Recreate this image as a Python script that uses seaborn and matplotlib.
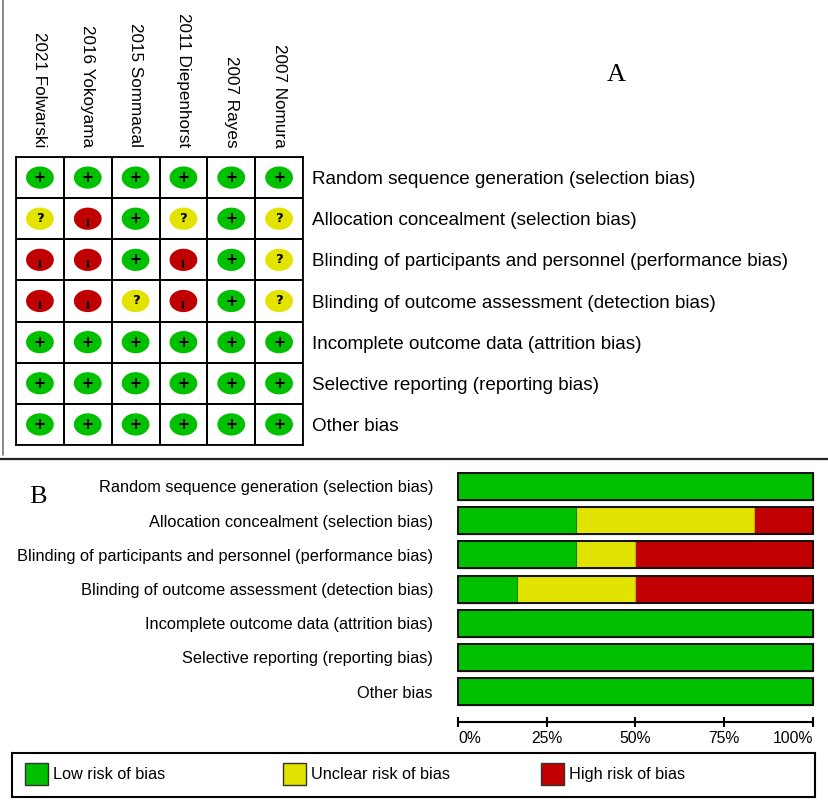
import numpy as np
import pandas as pd
import matplotlib.pyplot as plt
import seaborn as sns
from matplotlib.colors import ListedColormap
from matplotlib.lines import Line2D
from matplotlib.patches import Rectangle
from matplotlib.path import Path

# ------------------------------------------------------------
# data: judgement per domain (rows) for every study (columns)
# "+" low risk, "?" unclear risk, "-" high risk
# ------------------------------------------------------------
studies = ["2021 Folwarski", "2016 Yokoyama", "2015 Sommacal",
           "2011 Diepenhorst", "2007 Rayes", "2007 Nomura"]

domains = [
    "Random sequence generation (selection bias)",
    "Allocation concealment (selection bias)",
    "Blinding of participants and personnel (performance bias)",
    "Blinding of outcome assessment (detection bias)",
    "Incomplete outcome data (attrition bias)",
    "Selective reporting (reporting bias)",
    "Other bias",
]

random_sequence = ["+", "+", "+", "+", "+", "+"]
allocation = ["?", "-", "+", "?", "+", "?"]
blinding_participants = ["-", "-", "+", "-", "+", "?"]
blinding_outcome = ["-", "-", "?", "-", "+", "?"]
incomplete_data = ["+", "+", "+", "+", "+", "+"]
selective_reporting = ["+", "+", "+", "+", "+", "+"]
other_bias = ["+", "+", "+", "+", "+", "+"]

judgements = [random_sequence, allocation, blinding_participants,
              blinding_outcome, incomplete_data, selective_reporting, other_bias]

legend_labels = ["Low risk of bias", "Unclear risk of bias", "High risk of bias"]

GREEN = "#00C000"
YELLOW = "#E3E300"
RED = "#C00000"
palette = {"+": GREEN, "?": YELLOW, "-": RED}

# ------------------------------------------------------------
# tables
# ------------------------------------------------------------
rows = []
for i, (dom, js) in enumerate(zip(domains, judgements)):
    for j, (st, jd) in enumerate(zip(studies, js)):
        rows.append({"domain": dom, "study": st, "judgement": jd,
                     "col": j + 0.5, "row": i + 0.5})
cells = pd.DataFrame(rows)

share = (cells.groupby("domain")["judgement"]
         .value_counts(normalize=True)
         .unstack(fill_value=0)
         .reindex(domains) * 100)
for k in ["+", "?", "-"]:
    if k not in share:
        share[k] = 0.0
low = share["+"]
low_unclear = share["+"] + share["?"]
total = share["+"] + share["?"] + share["-"]

# ------------------------------------------------------------
# figure
# ------------------------------------------------------------
sns.set_style("white")
plt.rcParams["font.family"] = ["Liberation Sans", "DejaVu Sans"]
plt.rcParams["text.color"] = "black"
plt.rcParams["xtick.color"] = "black"
plt.rcParams["ytick.color"] = "black"

W, H = 829, 809
fig = plt.figure(figsize=(W / 100, H / 100), dpi=100)

# ---------------- panel A: summary grid ----------------
axa = fig.add_axes([16 / W, 1 - 445 / H, 287 / W, 288 / H])
sns.heatmap(np.zeros((len(domains), len(studies))),
            cmap=ListedColormap(["white"]), cbar=False,
            linewidths=1.1, linecolor="black",
            xticklabels=studies, yticklabels=domains, ax=axa)
axa.xaxis.tick_top()
axa.yaxis.tick_right()
axa.tick_params(axis="x", length=0, pad=7, labelrotation=270, labelsize=12.3)
axa.tick_params(axis="y", length=0, pad=6.5, labelrotation=0, labelsize=13.6)
for s in axa.spines.values():
    s.set_visible(True)
    s.set_linewidth(1.3)
    s.set_color("black")

theta = np.linspace(0, 2 * np.pi, 80)
ellipse = Path(np.column_stack([np.cos(theta), 0.8 * np.sin(theta)]), closed=True)

sns.scatterplot(data=cells, x="col", y="row", hue="judgement", palette=palette,
                marker=ellipse, s=400, linewidth=0, legend=False, ax=axa, zorder=3)

for _, r in cells.iterrows():
    if r["judgement"] == "+":
        axa.text(r["col"], r["row"], "+", ha="center", va="center",
                 fontsize=10.5, fontweight="bold", family="DejaVu Sans", zorder=4)
    elif r["judgement"] == "?":
        axa.text(r["col"], r["row"], "?", ha="center", va="center",
                 fontsize=9.5, fontweight="bold", family="DejaVu Sans", zorder=4)

high_cells = cells[cells["judgement"] == "-"].assign(mark_y=lambda d: d["row"] + 0.1)
sns.scatterplot(data=high_cells, x="col", y="mark_y", color="black", marker="|",
                s=40, linewidth=1.6, legend=False, ax=axa, zorder=4)

axa.set_xlim(0, len(studies))
axa.set_ylim(len(domains), 0)
axa.set_xlabel("")
axa.set_ylabel("")

# ---------------- panel B: summary bars ----------------
axb = fig.add_axes([458 / W, 1 - 722 / H, 355 / W, 252.6 / H])
sns.barplot(x=total.values, y=domains, orient="h", color=RED, saturation=1,
            width=0.79, edgecolor=RED, linewidth=0.8, errorbar=None, ax=axb)
sns.barplot(x=low_unclear.values, y=domains, orient="h", color=YELLOW, saturation=1,
            width=0.79, edgecolor="#B5B500", linewidth=0.8, errorbar=None, ax=axb)
sns.barplot(x=low.values, y=domains, orient="h", color=GREEN, saturation=1,
            width=0.79, edgecolor="#009000", linewidth=0.8, errorbar=None, ax=axb)
sns.barplot(x=total.values, y=domains, orient="h", color="#111111", fill=False,
            width=0.79, linewidth=1.4, errorbar=None, ax=axb)
for p in axb.patches:
    p.set_clip_on(False)

axb.set_xlim(0, 100)
axb.set_ylim(6.892, -0.5)
axb.set_xticks([0, 25, 50, 75, 100])
axb.set_xticklabels(["0%", "25%", "50%", "75%", "100%"], fontsize=11.3)
xt = axb.get_xticklabels()
xt[0].set_ha("left")
xt[-1].set_ha("right")
axb.tick_params(axis="x", bottom=True, direction="inout", length=7.2, width=1.5,
                pad=3, colors="black")
axb.tick_params(axis="y", left=False, length=0, pad=18, labelsize=11.8)
for t in axb.xaxis.get_major_ticks():
    t.tick1line.set_clip_on(False)
for side in ["left", "top", "right"]:
    axb.spines[side].set_visible(False)
axb.spines["bottom"].set_linewidth(1.5)
axb.spines["bottom"].set_color("black")
axb.set_xlabel("")
axb.set_ylabel("")

# ---------------- legend box ----------------
axl = fig.add_axes([12 / W, 1 - 797 / H, 803 / W, 44 / H])
axl.set_xlim(0, 803)
axl.set_ylim(44, 0)
axl.set_xticks([])
axl.set_yticks([])
for s in axl.spines.values():
    s.set_visible(True)
    s.set_linewidth(1.5)
    s.set_color("black")
for i, (lab, col) in enumerate(zip(legend_labels, [GREEN, YELLOW, RED])):
    x0 = 13 + 258 * i
    axl.add_patch(Rectangle((x0, 10), 23, 22, facecolor=col, edgecolor="#333333", lw=1))
    axl.text(x0 + 28, 21.5, lab, ha="left", va="center", fontsize=11.7)

# ---------------- frame lines and panel letters ----------------
fig.add_artist(Line2D([3 / W, 3 / W], [1, 1 - 455 / H], color="#777777", lw=1.2))
fig.add_artist(Line2D([0, 1], [1 - 459 / H, 1 - 459 / H], color="#222222", lw=1.6))
fig.text(616 / W, 1 - 75 / H, "A", family="Liberation Serif", fontsize=19,
         ha="center", va="center")
fig.text(38 / W, 1 - 497 / H, "B", family="Liberation Serif", fontsize=19,
         ha="center", va="center")

fig.savefig("out.png", dpi=100)
